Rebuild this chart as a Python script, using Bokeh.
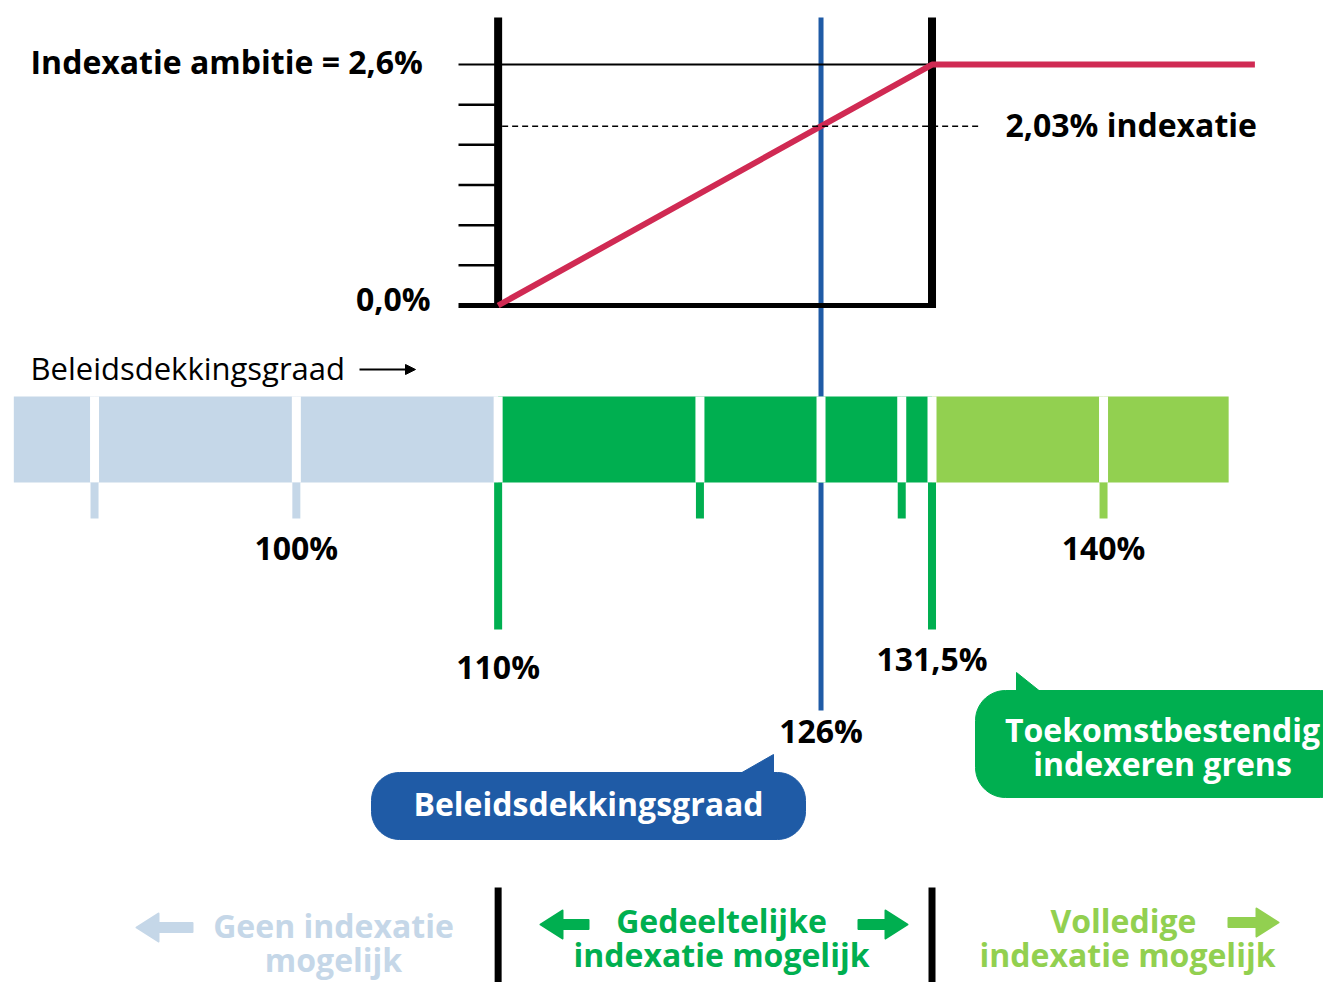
import numpy as np
from bokeh.plotting import figure
from bokeh.models import Range1d
from bokeh.core.properties import value
from bokeh.embed import file_html
from bokeh.resources import INLINE

# ---------------- data ----------------
BAR_EDGES = [86.0, 90.0, 100.0, 110.0, 120.0, 130.0, 131.5, 140.0, 146.2]   # dekkingsgraad bar edges (%)
TICKS = [90.0, 100.0, 110.0, 120.0, 130.0, 131.5, 140.0]
TICK_LABEL_VALUES = [100.0, 140.0]
TICK_LABELS = ["100%", "140%"]
LOWER = 110.0            # start gedeeltelijke indexatie
UPPER = 131.5            # toekomstbestendig indexeren grens
CURRENT = 126.0          # beleidsdekkingsgraad
AMBITION = 2.6           # indexatie ambitie (%)
CURVE_X = [LOWER, UPPER, 147.5]
CURVE_Y = [0.0, AMBITION, AMBITION]
N_IDX_STEPS = 6
THRESH_LABELS = ["110%", "131,5%", "126%"]
IDX_TEXT = "2,03% indexatie"
AMB_TEXT = "Indexatie ambitie = 2,6%"
ZERO_TEXT = "0,0%"

# ---------------- style ----------------
FONT = value("Open Sans")
LB = "#C5D7E8"
GR = "#00AF50"
LG = "#92D050"
BLUE = "#1F5BA6"
RED = "#D02A53"
FS = "32px"
TY = -2                          # small upward nudge for middle-baseline texts

W, H = 1323, 982
PXS = 20.18                      # screen px per % dekkingsgraad
X0 = 85.34                       # dekkingsgraad at the left canvas edge
def X(px):                       # canvas pixel -> data x
    return X0 + px / PXS

IDX_Y0, IDX_S = 305.0, 92.69     # canvas y of 0% indexatie, px per % indexatie

p = figure(width=W, height=H, output_backend="svg", toolbar_location=None,
           x_range=Range1d(X0, X0 + W / PXS), y_range=Range1d(H, 0),
           x_axis_location=None, y_axis_location=None, min_border=0,
           outline_line_color=None, background_fill_color="white")
p.grid.visible = False
p.extra_y_ranges = {"idx": Range1d((IDX_Y0 - H) / IDX_S, IDX_Y0 / IDX_S)}
FRAME_TOP = (IDX_Y0 - 17) / IDX_S

def txt(x, y, text, color="black", align="center", bold=True, yr=None, dy=0, size=FS):
    kw = dict(y_range_name=yr) if yr else {}
    p.text(x=x, y=y, text=text, text_font=FONT, text_font_size=size,
           text_font_style="bold" if bold else "normal", text_baseline="middle",
           text_align=align, text_color=color, y_offset=TY + dy, **kw)

# blue current-ratio line (behind)
p.segment(x0=[CURRENT], y0=[17], x1=[CURRENT], y1=[710], line_width=5, color=BLUE)

# top chart frame
xl = X(458)
levels = [AMBITION * k / N_IDX_STEPS for k in range(1, N_IDX_STEPS)]
p.segment(x0=[xl] * len(levels), y0=levels, x1=[LOWER] * len(levels), y1=levels,
          y_range_name="idx", line_width=2.5, color="black")
p.segment(x0=[xl], y0=[AMBITION], x1=[UPPER], y1=[AMBITION], y_range_name="idx",
          line_width=2, color="black")
p.segment(x0=[xl], y0=[0], x1=[UPPER + 4 / PXS], y1=[0], y_range_name="idx",
          line_width=5, color="black")
p.segment(x0=[LOWER, UPPER], y0=[-0.02, -0.02], x1=[LOWER, UPPER], y1=[FRAME_TOP, FRAME_TOP],
          y_range_name="idx", line_width=8, color="black")

# indexation curve
p.line(CURVE_X, CURVE_Y, y_range_name="idx", line_width=6, color=RED)
cur_idx = float(np.interp(CURRENT, CURVE_X, CURVE_Y))
p.segment(x0=[LOWER + 4 / PXS], y0=[cur_idx], x1=[X(978)], y1=[cur_idx], y_range_name="idx",
          line_width=1.5, color="black", line_dash="6 4")

# texts of top chart
txt([X(30)], [AMBITION], [AMB_TEXT], align="left", yr="idx", dy=-1)
txt([X(430)], [0], [ZERO_TEXT], align="right", yr="idx", dy=-5)
txt([X(1005)], [cur_idx], [IDX_TEXT], align="left", yr="idx")

# axis caption
txt([X(30)], [369], ["Beleidsdekkingsgraad"], align="left", bold=False, size="31px")
p.segment(x0=[X(359)], y0=[369], x1=[X(408)], y1=[369], line_width=2, color="black")
p.patch([X(405), X(415), X(405)], [364, 369, 374], color="black")

# dekkingsgraad bar
def zone_color(v):
    if v < LOWER:
        return LB
    if v <= UPPER:
        return GR
    return LG
lefts = BAR_EDGES[:-1]
rights = BAR_EDGES[1:]
p.quad(left=lefts, right=rights, top=[396] * len(lefts), bottom=[482] * len(lefts),
       fill_color=[zone_color((a + b) / 2) for a, b in zip(lefts, rights)], line_color=None)
gaps = TICKS + [CURRENT]
p.segment(x0=gaps, y0=[396] * len(gaps), x1=gaps, y1=[482] * len(gaps), line_width=9,
          color="white", line_cap="butt")
# ticks under bar
tick_len = [629 if t in (LOWER, UPPER) else 518 for t in TICKS]
p.segment(x0=TICKS, y0=[482] * len(TICKS), x1=TICKS, y1=tick_len, line_width=8,
          color=[zone_color(t) for t in TICKS], line_cap="butt")
txt(TICK_LABEL_VALUES, [549] * len(TICK_LABEL_VALUES), TICK_LABELS)
txt([LOWER, UPPER, CURRENT], [668, 660, 732], THRESH_LABELS)

# speech bubbles
def rounded(l, t, r, b, rad, n=14):
    xs, ys = [], []
    for cx, cy, a0 in [(r - rad, t + rad, -90), (r - rad, b - rad, 0), (l + rad, b - rad, 90), (l + rad, t + rad, 180)]:
        ang = np.radians(np.linspace(a0, a0 + 90, n))
        xs += list(cx + rad * np.cos(ang))
        ys += list(cy + rad * np.sin(ang))
    return [X(v) for v in xs], ys

bx, by = rounded(371, 772, 805, 839, 28)
p.patch(bx, by, color=BLUE)
p.patch([X(738), X(773), X(773)], [774, 754, 774], color=BLUE)
txt([X(588)], [805], ["Beleidsdekkingsgraad"], color="white")

gx, gy = rounded(975, 690, 1350, 797, 30)
p.patch(gx, gy, color=GR)
p.patch([X(1016), X(1016), X(1041)], [672, 692, 692], color=GR)
txt([X(1162), X(1162)], [731, 765], ["Toekomstbestendig", "indexeren grens"], color="white")

# bottom legend (nudged up a little so it fits the canvas)
p.segment(x0=[LOWER, UPPER], y0=[887, 887], x1=[LOWER, UPPER], y1=[H, H],
          line_width=7, color="black", line_cap="butt")

def arrow(tail, tip, y, color, shaft=9, head=22, hh=28):
    d = 1 if tip > tail else -1
    base = tip - d * head
    xs = [tail, base, base, tip, base, base, tail]
    ys = [y - shaft / 2, y - shaft / 2, y - hh / 2, y, y + hh / 2, y + shaft / 2, y + shaft / 2]
    p.patch([X(v) for v in xs], ys, fill_color=color, line_color=color, line_width=2,
            line_join="round")

S1, S2 = -7, -15
arrow(192, 136, 934 + S1, LB)
arrow(588, 540, 931 + S1, GR)
arrow(858, 907, 931 + S1, GR)
arrow(1228, 1278, 929 + S1, LG)

txt([X(333), X(333)], [934 + S1, 976 + S2], ["Geen indexatie", "mogelijk"], color=LB)
txt([X(721), X(721)], [929 + S1, 971 + S2], ["Gedeeltelijke", "indexatie mogelijk"], color=GR)
txt([X(1123), X(1127)], [929 + S1, 971 + S2], ["Volledige", "indexatie mogelijk"], color=LG)

open("out.html", "w").write(file_html(p, INLINE))
